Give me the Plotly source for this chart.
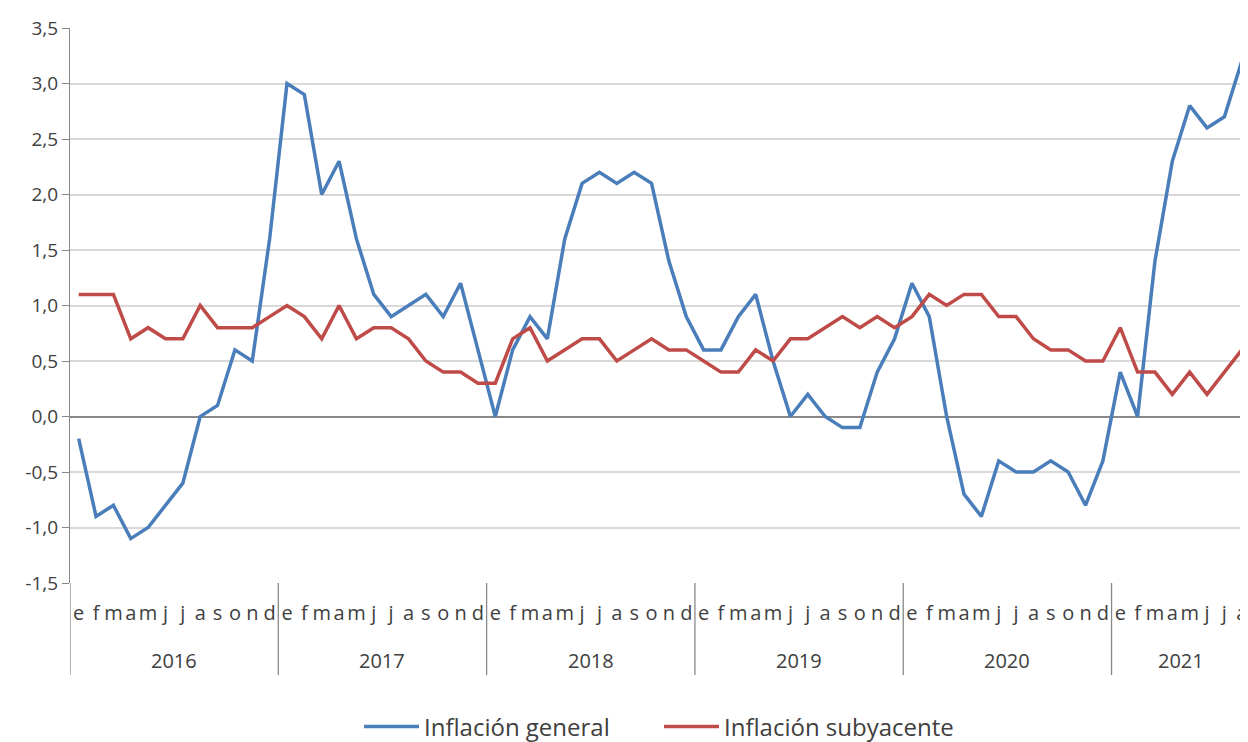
import plotly.graph_objects as go

years = ["2016", "2017", "2018", "2019", "2020", "2021"]
month_letters = ["e", "f", "m", "a", "m", "j", "j", "a", "s", "o", "n", "d"]
months_in_year = [12, 12, 12, 12, 12, 8]

general = [
    -0.2, -0.9, -0.8, -1.1, -1.0, -0.8, -0.6, 0.0, 0.1, 0.6, 0.5, 1.6,
    3.0, 2.9, 2.0, 2.3, 1.6, 1.1, 0.9, 1.0, 1.1, 0.9, 1.2, 0.6,
    0.0, 0.6, 0.9, 0.7, 1.6, 2.1, 2.2, 2.1, 2.2, 2.1, 1.4, 0.9,
    0.6, 0.6, 0.9, 1.1, 0.5, 0.0, 0.2, 0.0, -0.1, -0.1, 0.4, 0.7,
    1.2, 0.9, 0.0, -0.7, -0.9, -0.4, -0.5, -0.5, -0.4, -0.5, -0.8, -0.4,
    0.4, 0.0, 1.4, 2.3, 2.8, 2.6, 2.7, 3.2,
]
subyacente = [
    1.1, 1.1, 1.1, 0.7, 0.8, 0.7, 0.7, 1.0, 0.8, 0.8, 0.8, 0.9,
    1.0, 0.9, 0.7, 1.0, 0.7, 0.8, 0.8, 0.7, 0.5, 0.4, 0.4, 0.3,
    0.3, 0.7, 0.8, 0.5, 0.6, 0.7, 0.7, 0.5, 0.6, 0.7, 0.6, 0.6,
    0.5, 0.4, 0.4, 0.6, 0.5, 0.7, 0.7, 0.8, 0.9, 0.8, 0.9, 0.8,
    0.9, 1.1, 1.0, 1.1, 1.1, 0.9, 0.9, 0.7, 0.6, 0.6, 0.5, 0.5,
    0.8, 0.4, 0.4, 0.2, 0.4, 0.2, 0.4, 0.6,
]
y_ticks = [-1.5, -1.0, -0.5, 0.0, 0.5, 1.0, 1.5, 2.0, 2.5, 3.0, 3.5]

# build x positions and month tick labels
x_idx = []
tick_text = []
year_start = []
i = 0
for y, n in zip(years, months_in_year):
    year_start.append(i)
    for m in range(n):
        x_idx.append(i)
        tick_text.append(month_letters[m])
        i += 1

FONT = "Open Sans"
TXT = "#404040"

fig = go.Figure()
fig.add_trace(go.Scatter(x=x_idx, y=general, mode="lines", name="Inflación general",
                         line=dict(color="#4a7ebb", width=3.5)))
fig.add_trace(go.Scatter(x=x_idx, y=subyacente, mode="lines", name="Inflación subyacente",
                         line=dict(color="#be4b48", width=3.5)))

H_PLOT = 555
div_bottom = -92 / H_PLOT
year_y = -78 / H_PLOT

shapes = []
annotations = []
for y, s, n in zip(years, year_start, months_in_year):
    shapes.append(dict(type="line", xref="x", yref="paper", x0=s - 0.5, x1=s - 0.5,
                       y0=0, y1=div_bottom, line=dict(color="#888888", width=1.3)))
    annotations.append(dict(x=s + (n - 1) / 2, y=year_y, xref="x", yref="paper", text=y,
                            showarrow=False, font=dict(family=FONT, size=20, color=TXT),
                            xanchor="center", yanchor="middle"))

fig.update_layout(
    width=1240, height=742,
    margin=dict(l=62, r=0, t=20, b=167),
    plot_bgcolor="white", paper_bgcolor="white",
    font=dict(family=FONT, size=19, color=TXT),
    showlegend=True,
    legend=dict(orientation="h", x=0.5, xanchor="center", y=-144 / H_PLOT,
                yanchor="middle",
                font=dict(family=FONT, size=24, color=TXT),
                itemwidth=55, entrywidth=230, entrywidthmode="pixels"),
    shapes=shapes,
    annotations=annotations,
)
fig.update_xaxes(range=[-0.5, 67.36], tickmode="array", tickvals=x_idx, ticktext=tick_text,
                 showgrid=False, zeroline=False, showline=False, ticks="",
                 tickfont=dict(family=FONT, size=20, color=TXT), ticklabelstandoff=16,
                 fixedrange=True)
fig.update_yaxes(range=[-1.5, 3.5], tickmode="array", tickvals=y_ticks,
                 ticktext=[f"{v:.1f}".replace(".", ",") for v in y_ticks],
                 showgrid=True, gridcolor="#d9d9d9", gridwidth=1.5,
                 zeroline=True, zerolinecolor="#888888", zerolinewidth=1.5,
                 showline=True, linecolor="#888888", linewidth=1.3,
                 ticks="outside", ticklen=7, tickcolor="#888888",
                 tickfont=dict(family=FONT, size=19, color=TXT), fixedrange=True)

fig.write_html("out.html")
